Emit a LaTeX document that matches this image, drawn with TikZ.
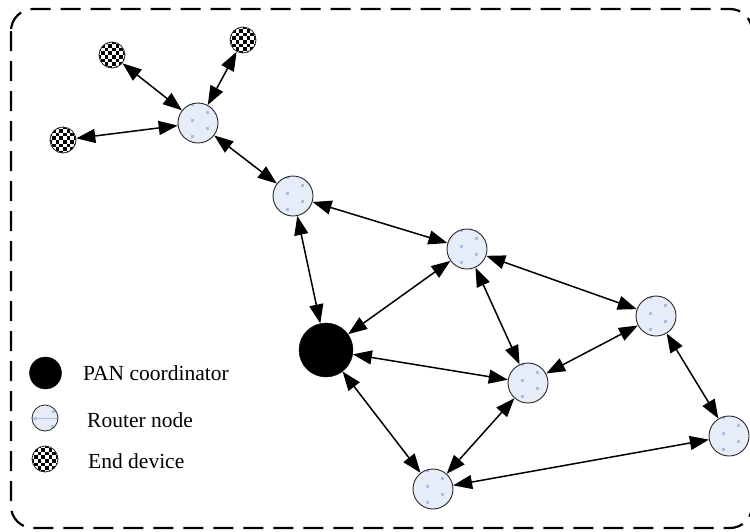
\documentclass[tikz,border=0pt]{standalone}
\usepackage{fontspec}
\setmainfont{Liberation Serif}
\newfontfamily\legfont{Liberation Serif}
\usetikzlibrary{arrows.meta}
\definecolor{routerfill}{HTML}{E6EDF8}
\definecolor{routerdot}{HTML}{A9BEE2}
\begin{document}
\begin{tikzpicture}[x=1pt,y=-1pt,
  router/.style={circle, draw=black!85, line width=0.9pt, fill=routerfill,
    minimum size=40pt, inner sep=0pt,
    path picture={
      \foreach \dx/\dy in {-6/-3, 9/-11, 9/5, -6/13, -6/-19, 9/20}
        \fill[routerdot] ([shift={(\dx-1.5,\dy-1.5)}]path picture bounding box.center) rectangle ++(3.4,3.4);}},
  pan/.style={circle, fill=black, draw=black, minimum size=54pt, inner sep=0pt},
  enddev/.style={circle, draw=black!85, line width=0.8pt, fill=white,
    minimum size=26pt, inner sep=0pt,
    path picture={
      \foreach \i in {-4,...,3}{
        \foreach \j in {-4,...,3}{
          \ifodd\numexpr\i+\j+8\relax\else
            \fill[black] ([shift={(\i*3.7,\j*3.7)}]path picture bounding box.center) rectangle ++(3.7,3.7);
          \fi}}}},
  >={Triangle[length=19pt 0 0,width=14pt 0 0]},
  edge/.style={<->, line width=1.5pt},
  legtext/.style={anchor=base west, inner sep=0pt, font=\legfont\fontsize{21.5}{25}\selectfont}
]
\useasboundingbox (0,0) rectangle (750,531);
\clip (0,0) rectangle (750,531);
\draw[line width=2.2pt, dash pattern=on 20pt off 10pt, rounded corners=22pt] (11,9) rectangle (752,528);

% nodes
\node[enddev] (E1) at (112,55) {};
\node[enddev] (E2) at (243,40) {};
\node[enddev] (E3) at (63,140) {};
\node[router] (R1) at (198,123) {};
\node[router] (R2) at (293,196) {};
\node[router] (R3) at (467,249) {};
\node[pan] (P) at (326,350) {};
\node[router] (R4) at (656,316) {};
\node[router] (R5) at (528,383) {};
\node[router] (R6) at (729,436) {};
\node[router] (R7) at (433,489) {};

% edges
\draw[edge] (E1) -- (R1);
\draw[edge] (E2) -- (R1);
\draw[edge] (E3) -- (R1);
\draw[edge] (R1) -- (R2);
\draw[edge] (R2) -- (R3);
\draw[edge] (R2) -- (P);
\draw[edge] (R3) -- (P);
\draw[edge] (R3) -- (R4);
\draw[edge] (R3) -- (R5);
\draw[edge] (P) -- (R5);
\draw[edge] (P) -- (R7);
\draw[edge] (R4) -- (R5);
\draw[edge] (R5) -- (R7);
\draw[edge] (R4) -- (R6);
\draw[edge] (R6) -- (R7);

% legend
\node[pan, minimum size=32pt] (LP) at (45.5,373) {};
\node[circle, draw=black!85, line width=0.8pt, fill=routerfill, minimum size=26pt, inner sep=0pt,
  path picture={
    \draw[routerdot, line width=0.6pt] (path picture bounding box.west) -- (path picture bounding box.east);
    \fill[routerdot] ([shift={(7,-8)}]path picture bounding box.center) rectangle ++(3,3);
    \fill[routerdot] ([shift={(-11,-1)}]path picture bounding box.center) rectangle ++(3,3);
    \fill[routerdot] ([shift={(6,7)}]path picture bounding box.center) rectangle ++(3,3);
  }] (LR) at (45,418) {};
\node[enddev] (LE) at (45,459) {};
\node[legtext] (TP) at (83,380) {PAN coordinator};
\node[legtext] (TR) at (87,427) {Router node};
\node[legtext] (TE) at (88,468) {End device};
\end{tikzpicture}
\end{document}
